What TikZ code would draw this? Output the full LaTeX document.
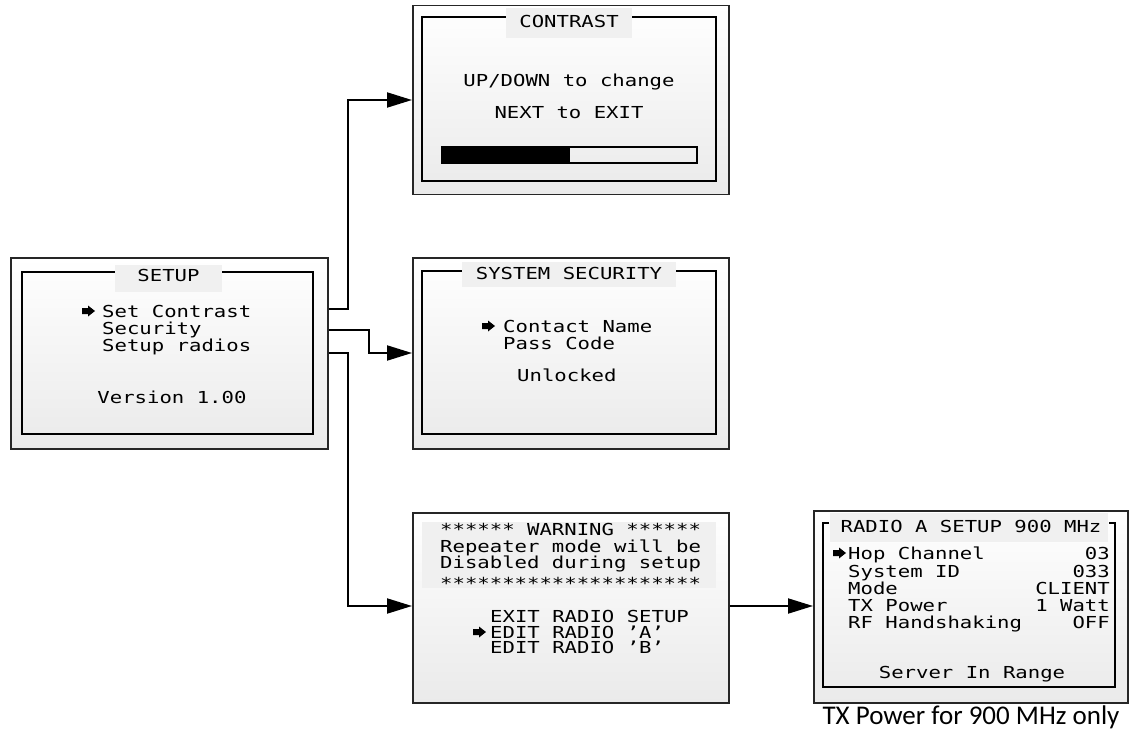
\documentclass[tikz,border=0pt]{standalone}
\usepackage{fontspec}
\usetikzlibrary{arrows.meta}
\newfontfamily\lcdfont[FakeStretch=1.25]{DejaVu Sans Mono}
\newfontfamily\notefont{Carlito}
\definecolor{titlegray}{HTML}{F0F0F0}
\definecolor{panelgray}{HTML}{EAEAEA}
\def\lcdbullet(#1,#2){\fill (#1,#2-3) -- (#1+6,#2-3) -- (#1+6,#2-5.5) -- (#1+13,#2) -- (#1+6,#2+5.5) -- (#1+6,#2+3) -- (#1,#2+3) -- cycle;}

\begin{document}
\begin{tikzpicture}[x=1pt, y=-1pt,
	panel/.style={draw=black!85, line width=1.5pt, top color=white, bottom color=panelgray, inner sep=0pt, anchor=north west},
	frame/.style={line width=2pt},
	lcd/.style={font=\lcdfont\fontsize{16.5}{17}\selectfont, inner sep=0pt},
	link/.style={line width=2pt, -{Triangle[length=25pt, width=15pt]}}]
			%%%%% START %%%%%
			\useasboundingbox (0,0) rectangle (1135,730);
			
			% setup menu
			\node[panel, minimum width=317, minimum height=191] (setup) at (10,257) {};
			\draw[frame] (22,272) rectangle (313,434);
			\fill[titlegray] (115,265) rectangle (222,292);
			\node[lcd, anchor=base] (setuptitle) at (168.5,281) {SETUP};
			\lcdbullet(82,311)
			\node[lcd, anchor=base west] (setcontrast) at (102,317) {Set Contrast};
			\node[lcd, anchor=base west] (security) at (102,334) {Security};
			\node[lcd, anchor=base west] (setupradios) at (102,351) {Setup radios};
			\node[lcd, anchor=base] (version) at (172,403) {Version 1.00};
			
			% contrast screen
			\node[panel, minimum width=316, minimum height=189] (contrast) at (412,5) {};
			\draw[frame] (422,17) rectangle (716,181);
			\fill[titlegray] (506,8) rectangle (632,38);
			\node[lcd, anchor=base] (contrasttitle) at (569,28) {CONTRAST};
			\node[lcd, anchor=base] (updown) at (569,87) {UP/DOWN to change};
			\node[lcd, anchor=base] (nextexit) at (569,119) {NEXT to EXIT};
			\draw[line width=1.5pt] (442,147) rectangle (697,163);
			\fill (442,147) rectangle (570,163);
			
			% security screen
			\node[panel, minimum width=316, minimum height=191] (secure) at (412,257) {};
			\draw[frame] (422,271) rectangle (716,434);
			\fill[titlegray] (462,262) rectangle (676,287);
			\node[lcd, anchor=base] (securetitle) at (569,279) {SYSTEM SECURITY};
			\lcdbullet(482,326)
			\node[lcd, anchor=base west] (contactname) at (503,332) {Contact Name};
			\node[lcd, anchor=base west] (passcode) at (503,349) {Pass Code};
			\node[lcd, anchor=base west] (unlocked) at (517,381) {Unlocked};
			
			% warning screen
			\node[panel, minimum width=316, minimum height=190] (warning) at (412,512) {};
			\fill[titlegray] (422,522) rectangle (716,588);
			\node[lcd, anchor=base west] (warn1) at (440,535) {****** WARNING ******};
			\node[lcd, anchor=base west] (warn2) at (440,552) {Repeater mode will be};
			\node[lcd, anchor=base west] (warn3) at (440,568) {Disabled during setup};
			\node[lcd, anchor=base west] (warn4) at (440,589) {*********************};
			\node[lcd, anchor=base west] (exitradio) at (490,622) {EXIT RADIO SETUP};
			\lcdbullet(473,632)
			\node[lcd, anchor=base west] (editradioa) at (490,638) {EDIT RADIO ’A’};
			\node[lcd, anchor=base west] (editradiob) at (490,653) {EDIT RADIO ’B’};
			
			% radio A screen
			\node[panel, minimum width=314, minimum height=192] (radio) at (813,510) {};
			\draw[frame] (829,523) -- (823,523) -- (823,687) -- (1115,687) -- (1115,523) -- (1109,523);
			\fill[titlegray] (830,513) rectangle (1108,542);
			\node[lcd, anchor=base] (radiotitle) at (971,532) {RADIO A SETUP 900 MHz};
			\lcdbullet(833,553)
			\node[lcd, anchor=base west] (hop) at (848,559) {Hop Channel};
			\node[lcd, anchor=base west] (sysid) at (848,577) {System ID};
			\node[lcd, anchor=base west] (mode) at (848,594) {Mode};
			\node[lcd, anchor=base west] (txpower) at (848,611) {TX Power};
			\node[lcd, anchor=base west] (rfhand) at (848,628) {RF Handshaking};
			\node[lcd, anchor=base east] (hopval) at (1110,559) {03};
			\node[lcd, anchor=base east] (sysidval) at (1110,577) {033};
			\node[lcd, anchor=base east] (modeval) at (1110,594) {CLIENT};
			\node[lcd, anchor=base east] (txval) at (1110,611) {1 Watt};
			\node[lcd, anchor=base east] (rfval) at (1110,628) {OFF};
			\node[lcd, anchor=base] (inrange) at (972,678) {Server In Range};
			\node[anchor=base, inner sep=0pt, font=\notefont\fontsize{27}{31}\selectfont] (txnote) at (971,724) {TX Power for 900 MHz only};
			
			% connectors
			\draw[link] (setup.east |- 0,309) -- (348,309) -- (348,100) -- (contrast.west |- 0,100);
			\draw[link] (setup.east |- 0,330) -- (369,330) -- (369,353) -- (secure.west |- 0,353);
			\draw[link] (setup.east |- 0,353) -- (348,353) -- (348,606) -- (warning.west |- 0,606);
			\draw[link] (warning.east |- 0,606) -- (radio.west |- 0,606);
			
			%%%%% END %%%%%
		\end{tikzpicture}
\end{document}
